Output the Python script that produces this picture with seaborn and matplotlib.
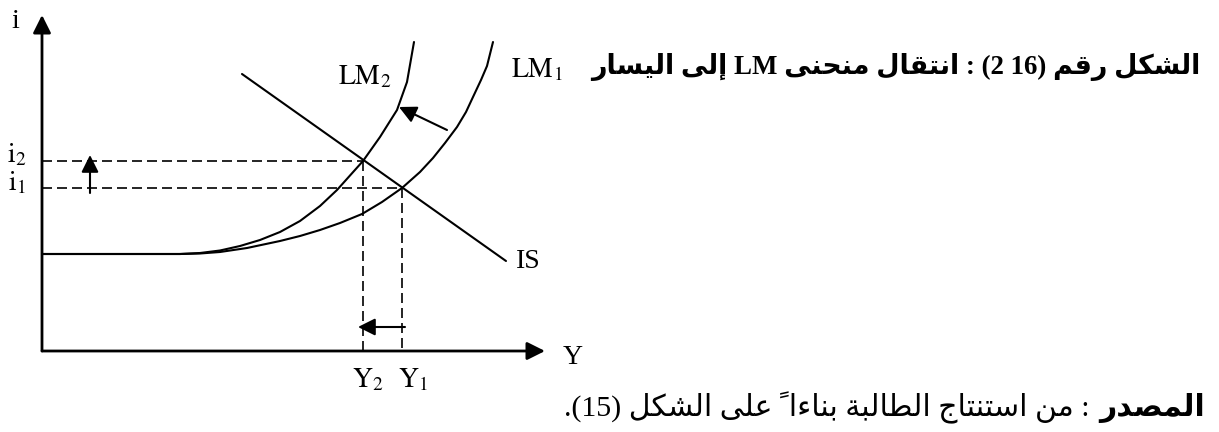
import re
import matplotlib
matplotlib.use("Agg")
import matplotlib.pyplot as plt
import seaborn as sns

# ---------------- data (diagram units, origin where the axes cross, y upward) ----------------
lm2_x = [0, 138, 158, 178, 198, 218, 238, 258, 278, 295, 321, 338, 355, 365, 372]
lm2_y = [97, 97, 98, 100.5, 105, 111, 119, 130, 145, 161, 190, 214, 241, 269, 309]
lm1_x = [0, 138, 158, 178, 205, 238, 258, 278, 298, 320, 340, 360, 378, 391, 403, 415,
         424, 431, 439, 445, 451]
lm1_y = [97, 97, 97.5, 99, 103, 110, 115, 121, 128, 137, 149, 163, 179, 193, 208, 224,
         239, 254, 271, 285, 309]
is_x = [200, 464]
is_y = [277, 90]
Y_eq = [360, 321]      # Y1, Y2
i_eq = [163, 190]      # i1, i2
x_axis_end = 503
y_axis_end = 336
# arrows: (tail_x, tail_y, tip_x, tip_y)
arrow_i = (48, 158, 48, 196)
arrow_Y = (363, 24, 316, 24)
arrow_shift = (405, 221, 357, 244)

label_texts = ["i", r"$\mathrm{i}_2$", r"$\mathrm{i}_1$", r"$\mathrm{LM}_2$", r"$\mathrm{LM}_1$",
               "IS", "Y", r"$\mathrm{Y}_2$", r"$\mathrm{Y}_1$"]
label_x = [-27, -25, -25, 323, 495, 486, 531, 326, 371]
label_y = [329, 196, 168, 274, 281, 90, -6, -29, -29]

title_ar = "الشكل رقم (16 2) : انتقال منحنى LM إلى اليسار"
source_bold = "المصدر"
source_rest = ": من استنتاج الطالبة بناءاً على الشكل (15)."

# ---------------- minimal Arabic shaping + RTL ordering ----------------
FORMS = {
    'ء': (0xFE80, None, None, None), 'آ': (0xFE81, 0xFE82, None, None),
    'أ': (0xFE83, 0xFE84, None, None), 'إ': (0xFE87, 0xFE88, None, None),
    'ا': (0xFE8D, 0xFE8E, None, None), 'ب': (0xFE8F, 0xFE90, 0xFE91, 0xFE92),
    'ة': (0xFE93, 0xFE94, None, None), 'ت': (0xFE95, 0xFE96, 0xFE97, 0xFE98),
    'ث': (0xFE99, 0xFE9A, 0xFE9B, 0xFE9C), 'ج': (0xFE9D, 0xFE9E, 0xFE9F, 0xFEA0),
    'ح': (0xFEA1, 0xFEA2, 0xFEA3, 0xFEA4), 'خ': (0xFEA5, 0xFEA6, 0xFEA7, 0xFEA8),
    'د': (0xFEA9, 0xFEAA, None, None), 'ذ': (0xFEAB, 0xFEAC, None, None),
    'ر': (0xFEAD, 0xFEAE, None, None), 'ز': (0xFEAF, 0xFEB0, None, None),
    'س': (0xFEB1, 0xFEB2, 0xFEB3, 0xFEB4), 'ش': (0xFEB5, 0xFEB6, 0xFEB7, 0xFEB8),
    'ص': (0xFEB9, 0xFEBA, 0xFEBB, 0xFEBC), 'ض': (0xFEBD, 0xFEBE, 0xFEBF, 0xFEC0),
    'ط': (0xFEC1, 0xFEC2, 0xFEC3, 0xFEC4), 'ظ': (0xFEC5, 0xFEC6, 0xFEC7, 0xFEC8),
    'ع': (0xFEC9, 0xFECA, 0xFECB, 0xFECC), 'غ': (0xFECD, 0xFECE, 0xFECF, 0xFED0),
    'ف': (0xFED1, 0xFED2, 0xFED3, 0xFED4), 'ق': (0xFED5, 0xFED6, 0xFED7, 0xFED8),
    'ك': (0xFED9, 0xFEDA, 0xFEDB, 0xFEDC), 'ل': (0xFEDD, 0xFEDE, 0xFEDF, 0xFEE0),
    'م': (0xFEE1, 0xFEE2, 0xFEE3, 0xFEE4), 'ن': (0xFEE5, 0xFEE6, 0xFEE7, 0xFEE8),
    'ه': (0xFEE9, 0xFEEA, 0xFEEB, 0xFEEC), 'و': (0xFEED, 0xFEEE, None, None),
    'ى': (0xFEEF, 0xFEF0, None, None), 'ي': (0xFEF1, 0xFEF2, 0xFEF3, 0xFEF4),
}
MARKS = {'\u064B': '\uFE70'}


def shape(word):
    letters = [c for c in word]
    out = []
    for i, ch in enumerate(letters):
        if ch in MARKS:
            out.append(MARKS[ch])
            continue
        if ch not in FORMS:
            out.append(ch)
            continue
        j = i - 1
        while j >= 0 and letters[j] in MARKS:
            j -= 1
        k = i + 1
        while k < len(letters) and letters[k] in MARKS:
            k += 1
        prev = letters[j] if j >= 0 else None
        nxt = letters[k] if k < len(letters) else None
        iso, fin, ini, med = FORMS[ch]
        jp = prev in FORMS and FORMS[prev][2] is not None
        jn = ini is not None and nxt in FORMS
        if jp and jn:
            g = med
        elif jp:
            g = fin
        elif jn:
            g = ini
        else:
            g = iso
        out.append(chr(g))
    return "".join(out)


MIRROR = {"(": ")", ")": "("}


def to_visual(s):
    tokens = re.findall(r"[\u0621-\u064B]+|[A-Za-z0-9]+|.", s)
    vis = []
    for t in reversed(tokens):
        if re.match(r"[\u0621-\u064B]", t):
            vis.append(shape(t)[::-1])
        else:
            vis.append(MIRROR.get(t, t))
    return "".join(vis)


# ---------------- figure ----------------
sns.set_style("white")
plt.rcParams["font.family"] = ["Liberation Serif", "DejaVu Sans"]
plt.rcParams["mathtext.fontset"] = "stix"

fig = plt.figure(figsize=(12.19, 4.32), dpi=100)
ax = fig.add_axes([0, 0, 1, 1])
ax.set_xlim(-42, 1177)
ax.set_ylim(-81, 351)
ax.axis("off")

line_kw = dict(ax=ax, color="black", sort=False, estimator=None, legend=False)
sns.lineplot(x=lm2_x, y=lm2_y, linewidth=1.5, **line_kw)
sns.lineplot(x=lm1_x, y=lm1_y, linewidth=1.5, **line_kw)
sns.lineplot(x=is_x, y=is_y, linewidth=1.5, **line_kw)
for Yv, iv in zip(Y_eq, i_eq):
    sns.lineplot(x=[0, Yv], y=[iv, iv], linewidth=1.2, linestyle=(0, (6, 3)), **line_kw)
    sns.lineplot(x=[Yv, Yv], y=[iv, 0], linewidth=1.2, linestyle=(0, (6, 3)), **line_kw)

head = "-|>,head_length=0.4,head_width=0.2"
ax.annotate("", xy=(0, y_axis_end), xytext=(0, 0),
            arrowprops=dict(arrowstyle=head, mutation_scale=27, lw=2, color="black",
                            shrinkA=0, shrinkB=0))
ax.annotate("", xy=(x_axis_end, 0), xytext=(0, 0),
            arrowprops=dict(arrowstyle=head, mutation_scale=27, lw=2, color="black",
                            shrinkA=0, shrinkB=0))
for tx, ty, hx, hy in (arrow_i, arrow_Y, arrow_shift):
    ax.annotate("", xy=(hx, hy), xytext=(tx, ty),
                arrowprops=dict(arrowstyle=head, mutation_scale=26, lw=1.5, color="black",
                                shrinkA=0, shrinkB=0))

for t, x, y in zip(label_texts, label_x, label_y):
    ax.text(x, y, t, fontsize=20, ha="center", va="center", color="black")

# title (Arabic, bold)
ax.text(1158, 284, to_visual(title_ar), fontsize=19.4, fontweight="bold",
        ha="right", va="center", color="black",
        family=["Liberation Serif", "DejaVu Sans"])

# source line
tb = ax.text(1163, -57, to_visual(source_bold), fontsize=21.5, fontweight="bold",
             ha="right", va="center", color="black", family=["DejaVu Sans"])
fig.canvas.draw()
bb = tb.get_window_extent(fig.canvas.get_renderer())
x_left = ax.transData.inverted().transform((bb.x0, bb.y0))[0]
ax.text(x_left - 10, -57, to_visual(source_rest), fontsize=21.5,
        ha="right", va="center", color="black",
        family=["Liberation Serif", "DejaVu Sans"])

fig.savefig("out.png", dpi=100, facecolor="white")
